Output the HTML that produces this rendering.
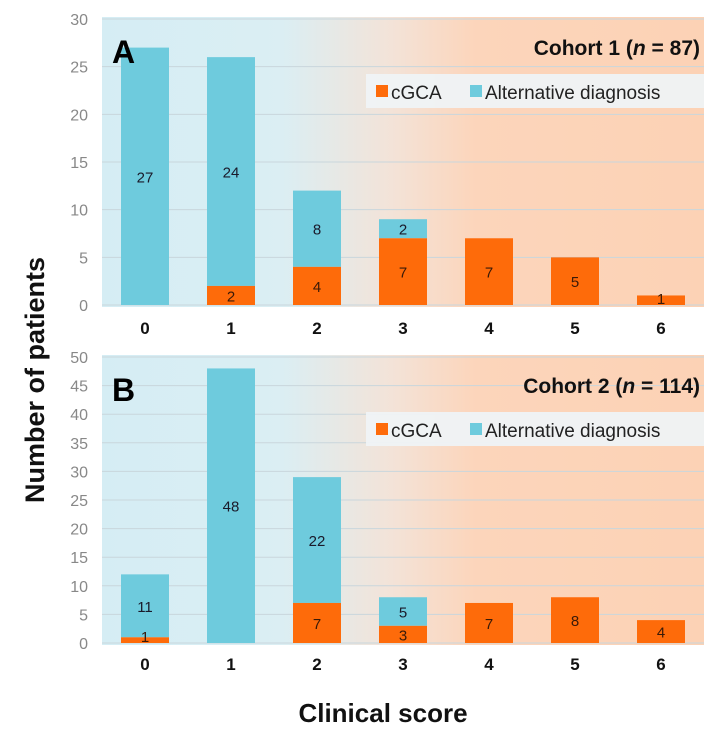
<!DOCTYPE html>
<html><head><meta charset="utf-8"><style>
body{margin:0;background:#fff;width:719px;height:746px;overflow:hidden;font-family:"Liberation Sans",sans-serif}
</style></head><body>
<svg id="chart" width="719" height="746">
<defs>
<linearGradient id="bg" x1="0" x2="1" y1="0" y2="0">
<stop offset="0" stop-color="#d5edf4"/><stop offset="0.3" stop-color="#dbeef3"/>
<stop offset="0.48" stop-color="#f3e3d8"/><stop offset="0.62" stop-color="#fcd5bb"/><stop offset="1" stop-color="#fcd2b5"/>
</linearGradient>
</defs>
<g id="g"></g>
<text x="44" y="380" transform="rotate(-90 44 380)" text-anchor="middle" font-size="27" font-weight="bold" fill="#111">Number of patients</text>
<text x="383" y="722" text-anchor="middle" font-size="26" font-weight="bold" fill="#111">Clinical score</text>
</svg>
<script>
const categories=["0","1","2","3","4","5","6"];
const cgcaA=[0,2,4,7,7,5,1];
const altA=[27,24,8,2,0,0,0];
const cgcaB=[1,0,7,3,7,8,4];
const altB=[11,48,22,5,0,0,0];
const ticksA=[0,5,10,15,20,25,30];
const ticksB=[0,5,10,15,20,25,30,35,40,45,50];
const NS="http://www.w3.org/2000/svg";
const g=document.getElementById('g');
function mk(t,a,txt){const e=document.createElementNS(NS,t);for(const k in a)e.setAttribute(k,a[k]);if(txt!==undefined)e.textContent=txt;g.appendChild(e);return e;}
function panel(p){
 const x0=102,x1=704,step=(x1-x0)/categories.length;
 const y=v=>p.yb-(v/p.max)*(p.yb-p.yt);
 const xc=i=>x0+step*(i+0.5);
 let bg=mk('rect',{x:x0,y:p.yt-2,width:x1-x0,height:p.yb-p.yt+4,fill:'url(#bg)'});
 
 p.ticks.forEach(t=>{
  let l=mk('line',{x1:x0,x2:x1,y1:y(t),y2:y(t),stroke:'#c9d6dc','stroke-width':1});
  
  let tx=mk('text',{x:88,y:y(t)+6,'text-anchor':'end','font-size':16,fill:'#888'},t);
  
 });
 categories.forEach((c,i)=>{
  const bw=48,bx=xc(i)-bw/2;
  const a=p.cg[i],b=p.alt[i];
  if(b>0){let r=mk('rect',{x:bx,y:y(a+b),width:bw,height:y(a)-y(a+b),fill:'#6ecbdd'});
   
   let t=mk('text',{x:xc(i),y:(y(a)+y(a+b))/2+6,'text-anchor':'middle','font-size':15,fill:'#1a1a2a'},b);
   }
  if(a>0){let r=mk('rect',{x:bx,y:y(a),width:bw,height:y(0)-y(a),fill:'#fe6b0a'});
   
   let ly=Math.min((y(a)+y(0))/2+6,y(0)-1);
   let t=mk('text',{x:xc(i),y:ly,'text-anchor':'middle','font-size':15,fill:'#3a1a08'},a);
   }
  let t=mk('text',{x:xc(i),y:p.xl,'text-anchor':'middle','font-size':17,'font-weight':'bold',fill:'#111'},c);
  
 });
 let L=mk('text',{x:112,y:p.yt+44,'font-size':32,'font-weight':'bold',fill:'#000'},p.id);
 
 let T=mk('text',{x:700,y:p.yt+36,'text-anchor':'end','font-size':21,'font-weight':'bold',fill:'#111'});
 T.innerHTML=p.title;
 
 let lb=mk('rect',{x:366,y:p.yt+55,width:338,height:34,fill:'#eff3f5',opacity:0.95});
 
 let s1=mk('rect',{x:376,y:p.yt+66,width:12,height:12,fill:'#fe6b0a'});
 
 let t1=mk('text',{x:391,y:p.yt+80,'font-size':19,fill:'#222'},'cGCA');
 
 let s2=mk('rect',{x:470,y:p.yt+66,width:12,height:12,fill:'#6ecbdd'});
 
 let t2=mk('text',{x:485,y:p.yt+80,'font-size':19,fill:'#222'},'Alternative diagnosis');
 
}
panel({id:'A',yt:19,yb:305,max:30,ticks:ticksA,cg:cgcaA,alt:altA,xl:334,title:'Cohort 1  (<tspan font-style="italic">n</tspan> = 87)'});
panel({id:'B',yt:357,yb:643,max:50,ticks:ticksB,cg:cgcaB,alt:altB,xl:670,title:'Cohort 2 (<tspan font-style="italic">n</tspan> = 114)'});
</script>
</body></html>
